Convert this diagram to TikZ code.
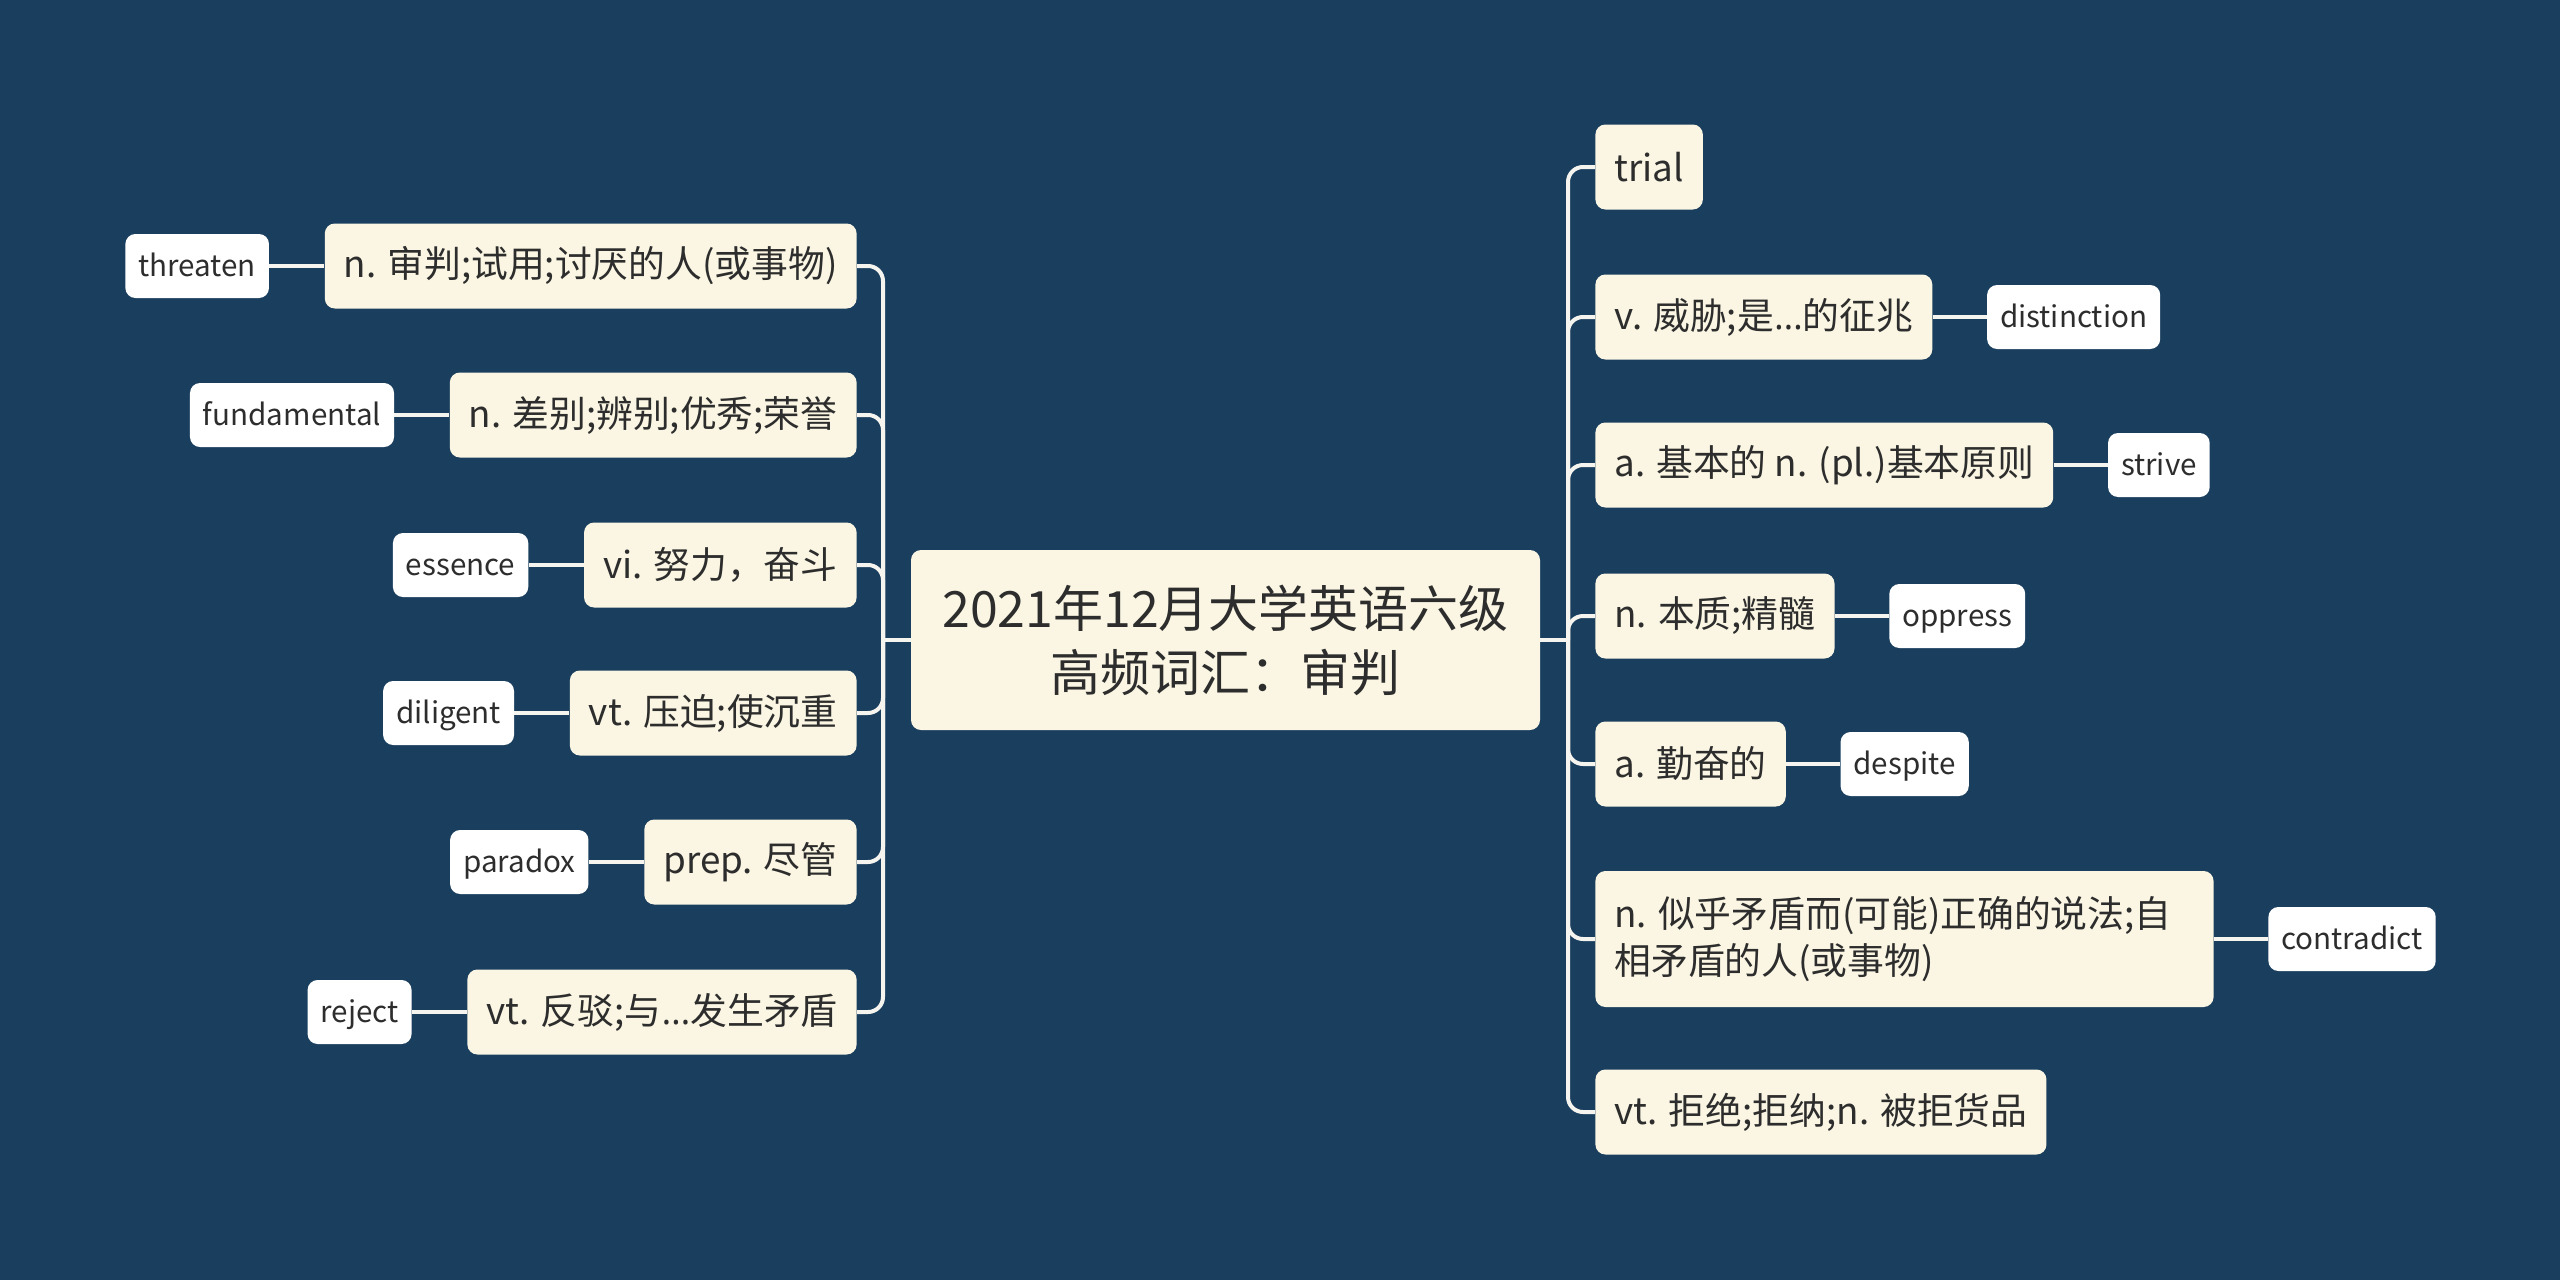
\documentclass[tikz,border=0pt]{standalone}
\usepackage{fontspec}
\setmainfont{Noto Sans CJK SC}
\newfontfamily\latinfont{Open Sans}
\usetikzlibrary{positioning}
\definecolor{bgblue}{RGB}{26,62,94}
\definecolor{creamfill}{RGB}{250,246,227}
\definecolor{linecol}{RGB}{245,244,238}
\definecolor{txtdark}{RGB}{45,45,45}
\newcommand{\myellip}{{\latinfont …}}
\tikzset{
  mainnode/.style={fill=creamfill, rounded corners=5pt, minimum height=42.5pt,
    inner xsep=9.5pt, inner ysep=0pt, text=txtdark, font=\fontsize{18.4}{23.5}\selectfont},
  leafnode/.style={fill=white, rounded corners=5pt, minimum height=32pt,
    inner xsep=6.5pt, inner ysep=0pt, text height=13pt, text depth=3pt,
    text=txtdark, font=\fontsize{14.8}{19}\selectfont},
  rootnode/.style={fill=creamfill, rounded corners=5pt, minimum width=314.5pt,
    minimum height=90pt, align=center, text=txtdark, font=\fontsize{25}{32}\selectfont},
  conn/.style={draw=linecol, line width=2pt, rounded corners=7.5pt},
}
\begin{document}
\begin{tikzpicture}[x=0.5pt,y=-0.5pt]
\fill[bgblue] (0,0) rectangle (2560,1280);
\useasboundingbox (0,0) rectangle (2560,1280);

\node[rootnode] (root) at (1225.5,640) {2021年12月大学英语六级\\高频词汇：审判};
\coordinate (tl) at (883,640);
\coordinate (tr) at (1568,640);

% left main nodes
\node[mainnode, anchor=east] (l1) at (857,266) {n. 审判;试用;讨厌的人(或事物)};
\node[mainnode, anchor=east] (l2) at (857,415) {n. 差别;辨别;优秀;荣誉};
\node[mainnode, anchor=east] (l3) at (857,565) {vi. 努力，奋斗};
\node[mainnode, anchor=east] (l4) at (857,713) {vt. 压迫;使沉重};
\node[mainnode, anchor=east] (l5) at (857,862) {prep. 尽管};
\node[mainnode, anchor=east] (l6) at (857,1012) {vt. 反驳;与\myellip 发生矛盾};

% left leaves
\node[leafnode, left=27.5pt of l1] (a1) {threaten};
\node[leafnode, left=27.5pt of l2] (a2) {fundamental};
\node[leafnode, left=27.5pt of l3] (a3) {essence};
\node[leafnode, left=27.5pt of l4] (a4) {diligent};
\node[leafnode, left=27.5pt of l5] (a5) {paradox};
\node[leafnode, left=27.5pt of l6] (a6) {reject};

% right main nodes
\node[mainnode, anchor=west] (r1) at (1595,167) {trial};
\node[mainnode, anchor=west] (r2) at (1595,317) {v. 威胁;是\myellip 的征兆};
\node[mainnode, anchor=west] (r3) at (1595,465) {a. 基本的 n. (pl.)基本原则};
\node[mainnode, anchor=west] (r4) at (1595,616) {n. 本质;精髓};
\node[mainnode, anchor=west] (r5) at (1595,764) {a. 勤奋的};
\node[mainnode, anchor=west, align=left, minimum height=68pt] (r6) at (1595,939) {n. 似乎矛盾而(可能)正确的说法;自\hspace*{11.5pt}\\相矛盾的人(或事物)};
\node[mainnode, anchor=west] (r7) at (1595,1112) {vt. 拒绝;拒纳;n. 被拒货品};

% right leaves
\node[leafnode, right=27pt of r2] (b2) {distinction};
\node[leafnode, right=27pt of r3] (b3) {strive};
\node[leafnode, right=27pt of r4] (b4) {oppress};
\node[leafnode, right=27pt of r5] (b5) {despite};
\node[leafnode, right=27pt of r6] (b6) {contradict};

% connectors root
\draw[conn] (root.west) -- (tl);
\draw[conn] (root.east) -- (tr);
\foreach \n in {l1,l2,l3,l4,l5,l6} \draw[conn] (\n.east) -| (tl);
\foreach \n in {r1,r2,r3,r4,r5,r6,r7} \draw[conn] (tr) |- (\n.west);
% leaf connectors
\foreach \a/\b in {a1/l1,a2/l2,a3/l3,a4/l4,a5/l5,a6/l6} \draw[conn] (\a.east) -- (\b.west);
\foreach \a/\b in {r2/b2,r3/b3,r4/b4,r5/b5,r6/b6} \draw[conn] (\a.east) -- (\b.west);
\end{tikzpicture}
\end{document}
